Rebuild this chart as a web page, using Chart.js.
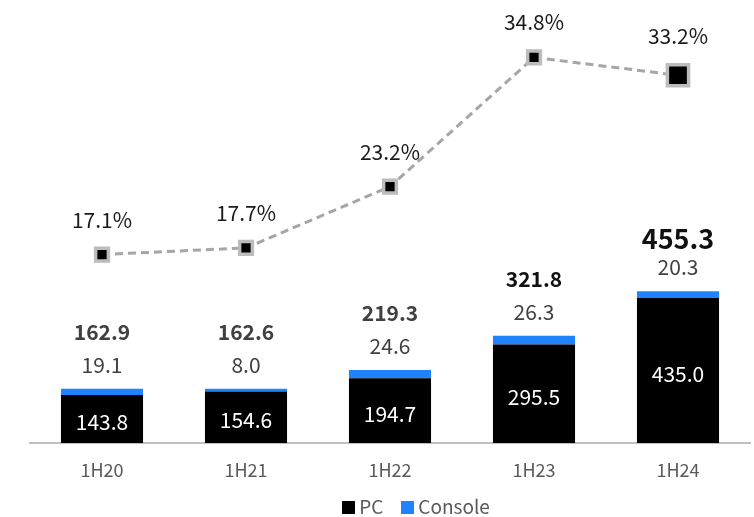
<!DOCTYPE html>
<html>
<head>
<meta charset="utf-8">
<script src="https://cdn.jsdelivr.net/npm/chart.js@4.4.1/dist/chart.umd.min.js"></script>
<style>
  html, body { margin: 0; padding: 0; background: #fff; }
  #wrap { position: relative; width: 754px; height: 517px; }
  #legend {
    position: absolute; left: 0; top: 492px; width: 754px; padding-left: 78px; box-sizing: border-box;
    display: flex; justify-content: center; gap: 18px;
    font-family: "Noto Sans CJK KR", "Noto Sans", sans-serif; font-size: 19px; color: #595959;
  }
  #legend span.item { display: flex; align-items: center; gap: 4px; }
  #legend i { display: inline-block; width: 13px; height: 13px; margin-top: 4px; }
</style>
</head>
<body>
<div id="wrap">
  <canvas id="chart" width="754" height="517"></canvas>
  <div id="legend"></div>
</div>
<script>
// --- Data ---
const periods = ['1H20', '1H21', '1H22', '1H23', '1H24'];
const pcValues = [143.8, 154.6, 194.7, 295.5, 435.0];
const consoleValues = [19.1, 8.0, 24.6, 26.3, 20.3];
const totalValues = [162.9, 162.6, 219.3, 321.8, 455.3];
const shareValues = [17.1, 17.7, 23.2, 34.8, 33.2];

const FONT = '"Noto Sans CJK KR", "Noto Sans", sans-serif';
const PC_COLOR = '#000000';
const CONSOLE_COLOR = '#1f82ff';

// --- Labels drawn from scale positions ---
const valueLabels = {
    id: 'valueLabels',
    afterDatasetsDraw(chart) {
        const ctx = chart.ctx;
        const yBar = chart.scales.y;
        const pcMeta = chart.getDatasetMeta(0);
        const lineMeta = chart.getDatasetMeta(2);
        ctx.save();
        ctx.textAlign = 'center';
        ctx.textBaseline = 'middle';

        periods.forEach((p, i) => {
            const x = pcMeta.data[i].x;
            const top = yBar.getPixelForValue(totalValues[i]);
            const pcTop = yBar.getPixelForValue(pcValues[i]);
            const base = yBar.getPixelForValue(0);
            const last = i === periods.length - 1;

            // PC value inside bar
            ctx.fillStyle = '#ffffff';
            ctx.font = '21px ' + FONT;
            ctx.fillText(pcValues[i].toFixed(1), x, (pcTop + base) / 2 + 3);

            // Console value above bar
            ctx.fillStyle = '#404040';
            ctx.fillText(consoleValues[i].toFixed(1), x, top - 24);

            // Total
            ctx.fillStyle = i >= 3 ? '#111111' : '#404040';
            ctx.font = 'bold ' + (last ? 27 : 21) + 'px ' + FONT;
            ctx.fillText(totalValues[i].toFixed(1), x, top - (last ? 53 : 57));

            // Share
            const pt = lineMeta.data[i];
            ctx.fillStyle = '#1a1a1a';
            ctx.font = '21px ' + FONT;
            ctx.fillText(shareValues[i].toFixed(1) + '%', pt.x, pt.y - (last ? 39 : 35));
        });
        ctx.restore();
    }
};

const chart = new Chart(document.getElementById('chart').getContext('2d'), {
    type: 'bar',
    data: {
        labels: periods,
        datasets: [
            {
                label: 'PC',
                data: pcValues,
                backgroundColor: PC_COLOR,
                stack: 'rev',
                yAxisID: 'y',
                order: 2
            },
            {
                label: 'Console',
                data: consoleValues,
                backgroundColor: CONSOLE_COLOR,
                stack: 'rev',
                yAxisID: 'y',
                order: 2
            },
            {
                type: 'line',
                label: 'Share',
                data: shareValues,
                yAxisID: 'y1',
                borderColor: '#a6a6a6',
                borderWidth: 3,
                borderDash: [8, 5],
                pointStyle: 'rect',
                pointRadius: [9, 9, 9, 9, 15],
                pointBackgroundColor: '#000000',
                pointBorderColor: '#bcbcbc',
                pointBorderWidth: 3.5,
                fill: false,
                order: 1
            }
        ]
    },
    options: {
        responsive: false,
        animation: false,
        layout: { autoPadding: false, padding: { left: 30, right: 4, top: 10, bottom: 0 } },
        datasets: {
            bar: { categoryPercentage: 1, barPercentage: 0.57 }
        },
        plugins: {
            legend: { display: false },
            tooltip: { enabled: false }
        },
        scales: {
            x: {
                stacked: true,
                grid: { display: false, drawTicks: false },
                border: { display: true, color: '#bfbfbf', width: 2 },
                ticks: {
                    padding: 16,
                    color: '#595959',
                    font: { family: FONT, size: 18 }
                },
                afterFit(scale) { scale.height = 74; }
            },
            y: {
                display: false,
                stacked: true,
                min: 0,
                max: 1300
            },
            y1: {
                display: false,
                min: 0.18,
                max: 39.06
            }
        }
    },
    plugins: [valueLabels]
});

// --- Legend ---
const legend = document.getElementById('legend');
chart.data.datasets.slice(0, 2).forEach((ds) => {
    const item = document.createElement('span');
    item.className = 'item';
    const box = document.createElement('i');
    box.style.background = ds.backgroundColor;
    item.appendChild(box);
    item.appendChild(document.createTextNode(ds.label));
    legend.appendChild(item);
});
</script>
</body>
</html>
